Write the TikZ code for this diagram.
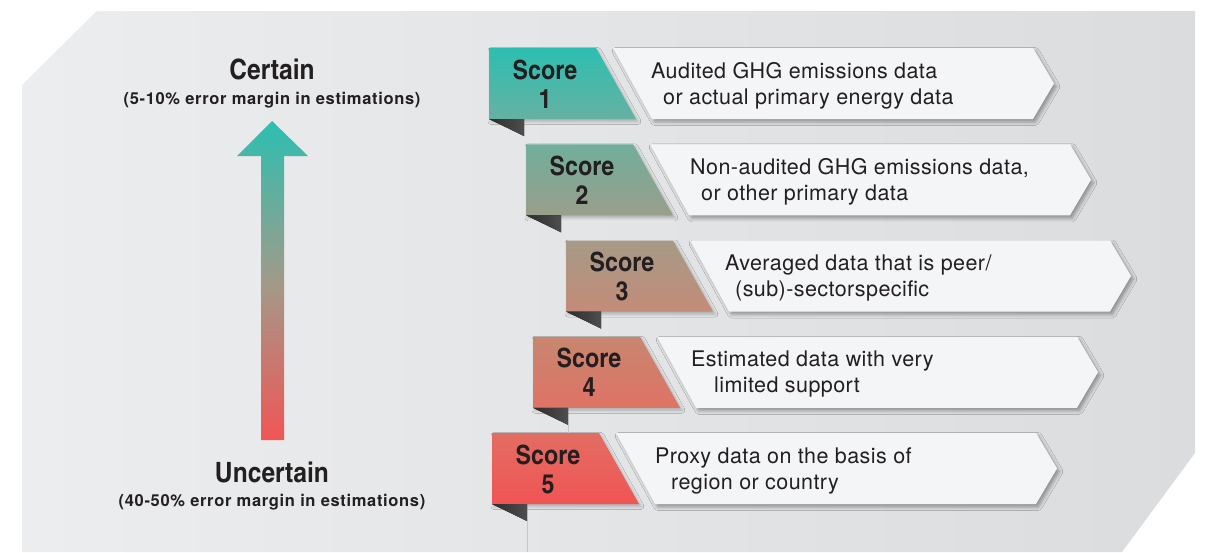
\documentclass[tikz,border=0pt]{standalone}
\usepackage{fontspec}
\setmainfont{TeX Gyre Heros}
\newfontfamily\condfont{texgyreheroscn}[Extension=.otf, UprightFont=*-regular, BoldFont=*-bold, FakeStretch=1.07]
\usetikzlibrary{shadows.blur}
\definecolor{bgA}{HTML}{ECEDEE}
\definecolor{bgB}{HTML}{DADCDD}
\definecolor{ink}{HTML}{231F20}
\definecolor{descfill}{HTML}{F4F5F7}
\definecolor{cteal}{HTML}{2CBFB1}
\definecolor{cmid}{HTML}{A09B89}
\definecolor{cred}{HTML}{F05656}
\definecolor{oneT}{HTML}{2CBFB1}\definecolor{oneB}{HTML}{66B1A2}
\definecolor{twoT}{HTML}{71AE9C}\definecolor{twoB}{HTML}{999F8B}
\definecolor{thrT}{HTML}{A69A87}\definecolor{thrB}{HTML}{C38C79}
\definecolor{fouT}{HTML}{C8866F}\definecolor{fouB}{HTML}{DF7366}
\definecolor{fivT}{HTML}{E36D62}\definecolor{fivB}{HTML}{F05454}
\definecolor{foldA}{HTML}{2C2C2C}
\definecolor{foldB}{HTML}{4E4E4E}
\pgfdeclareverticalshading{certainty}{100bp}{color(0bp)=(cred); color(25bp)=(cred); color(50bp)=(cmid); color(75bp)=(cteal); color(100bp)=(cteal)}
\tikzset{
  descbox/.style={fill=descfill, blur shadow={shadow xshift=2.5pt, shadow yshift=-3pt, shadow blur radius=3.5pt, shadow opacity=35}},
  scorebox/.style={blur shadow={shadow xshift=2pt, shadow yshift=-2.5pt, shadow blur radius=3pt, shadow opacity=25}},
  fold/.style={left color=foldA, right color=foldB},
  scoretext/.style={anchor=base, inner sep=0pt, text=ink, font=\condfont\bfseries\fontsize{26.5}{28}\selectfont},
  desctext/.style={anchor=base west, inner sep=0pt, text=ink, font=\fontsize{21.5}{24}\selectfont\addfontfeatures{LetterSpace=2}},
  headtext/.style={anchor=base, inner sep=0pt, text=ink, font=\condfont\bfseries\fontsize{28}{30}\selectfont},
  subtext/.style={anchor=base, inner sep=0pt, text=ink, font=\bfseries\fontsize{16.5}{18}\selectfont\addfontfeatures{LetterSpace=4}},
  ribbonline/.style={draw=black!22, line width=0.7pt}
}
\newcommand{\scoreitem}[9]{%
  \path[descbox] ({#2+124},#3) -- ({#2+544},#3) -- ({#2+565},{#3+35.5}) -- ({#2+544},{#3+71}) -- ({#2+163},{#3+71}) -- cycle;
  \path[scorebox, top color=#4, bottom color=#5] (#2,#3) -- ({#2+107},#3) -- ({#2+147},{#3+71}) -- (#2,{#3+71}) -- cycle;
  \fill[fold] (#2,{#3+71}) -- ({#2+35},{#3+71}) -- ({#2+35},{#3+88}) -- cycle;
  \coordinate (f#1) at ({#2+35},{#3+88});
  \node[scoretext] (s#1) at ({#2+56},{#3+31}) {Score};
  \node[scoretext] (n#1) at ({#2+56},{#3+60}) {#1};
  \node[desctext] (d#1a) at (#6,{#3+30}) {#7};
  \node[desctext] (d#1b) at (#8,{#3+56}) {#9};
}
\begin{document}
\begin{tikzpicture}[x=1pt,y=-1pt]
\useasboundingbox (0,0) rectangle (1218,552);
\fill[white] (0,0) rectangle (1218,552);
\shade[left color=bgA, right color=bgB] (97,11) -- (1195,11) -- (1195,453) -- (1122,552) -- (22,552) -- (22,85) -- cycle;
% arrow
\shade[shading=certainty] (261,440) -- (261,156) -- (237,156) -- (272,121) -- (308,156) -- (284,156) -- (284,440) -- cycle;
\node[headtext] (certain) at (272,79) {Certain};
\node[subtext] (certainsub) at (272,104.5) {(5-10\% error margin in estimations)};
\node[headtext] (uncertain) at (272,482) {Uncertain};
\node[subtext] (uncertainsub) at (272,506) {(40-50\% error margin in estimations)};
\coordinate (t5) at (492,433);
\coordinate (bend) at (527,552);
\scoreitem{1}{489}{48}{oneT}{oneB}{651}{Audited GHG emissions data}{663}{or actual primary energy data}
\scoreitem{2}{526}{144.25}{twoT}{twoB}{690}{Non-audited GHG emissions data,}{701}{or other primary data}
\scoreitem{3}{566}{240.5}{thrT}{thrB}{725}{Averaged data that is peer/}{735}{(sub)-sectorspecific}
\scoreitem{4}{533}{336.75}{fouT}{fouB}{691}{Estimated data with very}{714}{limited support}
\scoreitem{5}{492}{433}{fivT}{fivB}{655}{Proxy data on the basis of}{671}{region or country}
\draw[ribbonline] (f5) -- (bend);
\draw[ribbonline] (f4) -- (f4 |- t5);
\end{tikzpicture}
\end{document}
